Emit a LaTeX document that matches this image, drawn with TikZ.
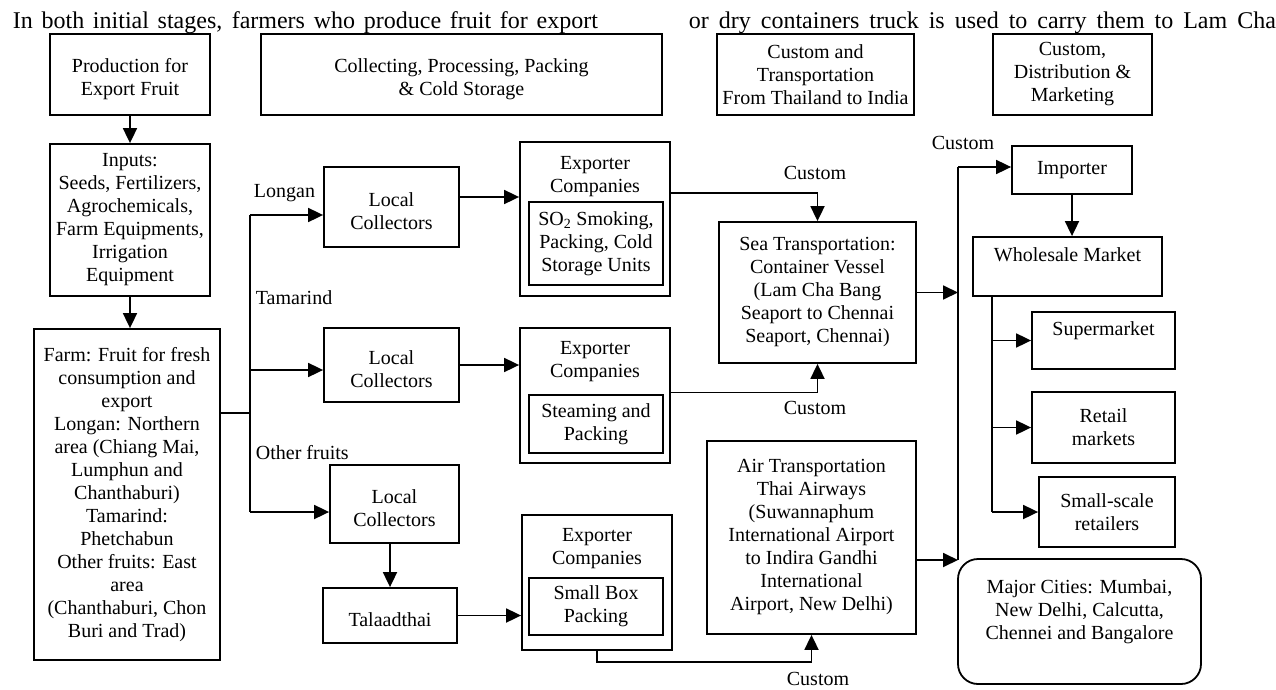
\documentclass[tikz,border=0pt]{standalone}
\usepackage{fontspec}
\setmainfont{Liberation Serif}
\usetikzlibrary{arrows.meta}

\begin{document}
\begin{tikzpicture}[x=1pt,y=-1pt, line width=1.8pt,
	box/.style={shape=rectangle, draw, align=center, inner sep=2pt, font=\fontsize{20}{23}\selectfont},
	plain/.style={shape=rectangle, align=center, inner sep=0pt, font=\fontsize{20}{23}\selectfont},
	lbl/.style={shape=rectangle, inner sep=0pt, font=\fontsize{20}{23}\selectfont},
	arr/.style={-{Triangle[length=15pt,width=14pt]}},
	intro/.style={anchor=base west, inner sep=0pt, font=\fontsize{24}{27}\selectfont}]
	\useasboundingbox (0,0) rectangle (1276,690);

	% Text line above the chart
	\node[intro] (intro1) at (12,28.5) {\makebox[585pt][s]{In both initial stages, farmers who produce fruit for export}};
	\node[intro] (intro2) at (688,28.5) {\makebox[587pt][s]{or dry containers truck is used to carry them to Lam Cha}};

	% Stage headings
	\node[box, minimum width=160pt, minimum height=81pt] (prod) at (130,74.5) {\mbox{}\\Production for\\Export Fruit};
	\node[box, minimum width=401pt, minimum height=81pt] (coll) at (461.5,74.5) {\mbox{}\\Collecting, Processing, Packing\\\& Cold Storage};
	\node[box, minimum width=197pt, minimum height=81pt] (trans) at (815.5,74.5) {Custom and\\Transportation\\From Thailand to India};
	\node[box, minimum width=159pt, minimum height=81pt] (market) at (1072.5,74.5) {Custom,\\Distribution \&\\Marketing};

	% Production in Thailand
	\node[box, minimum width=160pt, minimum height=152pt] (inputs) at (130,220) {Inputs:\\Seeds, Fertilizers,\\Agrochemicals,\\Farm Equipments,\\Irrigation\\Equipment};
	\node[box, minimum width=186pt, minimum height=331pt] (farm) at (127,494.5) {Farm: Fruit for fresh\\consumption and\\export\\Longan: Northern\\area (Chiang Mai,\\Lumphun and\\Chanthaburi)\\Tamarind:\\Phetchabun\\Other fruits: East\\area\\(Chanthaburi, Chon\\Buri and Trad)};

	% Collectors
	\node[box, minimum width=135pt, minimum height=80pt] (lc1) at (391.5,207) {\mbox{}\\Local\\Collectors};
	\node[box, minimum width=135pt, minimum height=74pt] (lc2) at (391.5,365) {\mbox{}\\Local\\Collectors};
	\node[box, minimum width=129pt, minimum height=78pt] (lc3) at (394.5,504) {\mbox{}\\Local\\Collectors};
	\node[box, minimum width=134pt, minimum height=55pt] (tal) at (390,615.5) {\mbox{}\\Talaadthai};

	% Exporters
	\node[box, minimum width=150pt, minimum height=154pt] (exp1) at (595,219) {};
	\node[plain] (exp1name) at (595,176.5) {Exporter\\Companies};
	\node[box, minimum width=134pt, minimum height=83pt] (exp1unit) at (596,243.5) {SO\textsubscript{2} Smoking,\\Packing, Cold\\Storage Units};
	\node[box, minimum width=150pt, minimum height=135pt] (exp2) at (595,395.5) {};
	\node[plain] (exp2name) at (595,362) {Exporter\\Companies};
	\node[box, minimum width=134pt, minimum height=58pt] (exp2unit) at (596,424) {Steaming and\\Packing};
	\node[box, minimum width=150pt, minimum height=135pt] (exp3) at (597,582.5) {};
	\node[plain] (exp3name) at (597,549) {Exporter\\Companies};
	\node[box, minimum width=134pt, minimum height=57pt] (exp3unit) at (596,606.5) {Small Box\\Packing};

	% Transport
	\node[box, minimum width=197pt, minimum height=141pt] (sea) at (817.5,292.5) {Sea Transportation:\\Container Vessel\\(Lam Cha Bang\\Seaport to Chennai\\Seaport, Chennai)};
	\node[box, minimum width=209pt, minimum height=193pt] (air) at (811.5,537.5) {Air Transportation\\Thai Airways\\(Suwannaphum\\International Airport\\to Indira Gandhi\\International\\Airport, New Delhi)};

	% India
	\node[box, minimum width=120pt, minimum height=48pt] (importer) at (1072,170) {Importer};
	\node[box, minimum width=189pt, minimum height=59pt] (wholesale) at (1067.5,266.5) {Wholesale Market\\\mbox{}};
	\node[box, minimum width=143pt, minimum height=57pt] (super) at (1103.5,340.5) {Supermarket\\\mbox{}};
	\node[box, minimum width=143pt, minimum height=71pt] (retail) at (1103.5,427.5) {Retail\\markets};
	\node[box, minimum width=136pt, minimum height=70pt] (smallscale) at (1107,512) {Small-scale\\retailers};
	\node[box, rounded corners=20pt, minimum width=243pt, minimum height=125pt] (cities) at (1079.5,621.5) {Major Cities: Mumbai,\\New Delhi, Calcutta,\\Chennei and Bangalore\\\mbox{}};

	% Farm to collectors
	\draw[arr] (prod) -- (inputs);
	\draw[arr] (inputs.south) -- (inputs.south |- farm.north);
	\coordinate (split) at (250,413);
	\coordinate (splittop) at (250,215);
	\coordinate (splitmid) at (250,370);
	\coordinate (splitbot) at (250,512);
	\draw (farm.east |- split) -- (split);
	\draw (splittop) -- (splitbot);
	\draw[arr] (splittop) -- (splittop -| lc1.west);
	\draw[arr] (splitmid) -- (splitmid -| lc2.west);
	\draw[arr] (splitbot) -- (splitbot -| lc3.west);
	\node[lbl, anchor=west] (longan) at (253,193) {Longan};
	\node[lbl, anchor=west] (tamarind) at (255,298) {Tamarind};
	\node[lbl, anchor=west] (others) at (255,453) {Other fruits};

	% Collectors to exporters
	\draw[arr] ([yshift=10pt]lc1.east) -- ([yshift=10pt]lc1.east -| exp1.west);
	\draw[arr] (lc2.east) -- (lc2.east -| exp2.west);
	\draw[arr] (tal.north |- lc3.south) -- (tal.north);
	\draw[arr] (tal.east) -- (tal.east -| exp3.west);

	% Exporters to transport
	\draw[arr] ([yshift=26pt]exp1.east) -| (sea.north);
	\draw[arr] ([yshift=3pt]exp2.east) -| (sea.south);
	\draw[arr] (exp3.south) -- ++(0,11) -| (air.south);
	\node[lbl] (custom1) at (815,173) {Custom};
	\node[lbl] (custom2) at (815,408) {Custom};
	\node[lbl] (custom3) at (818,679) {Custom};
	\node[lbl] (custom4) at (963,143) {Custom};

	% Transport to India
	\coordinate (gatetop) at (958,167);
	\coordinate (gatebot) at (958,560);
	\draw (gatetop) -- (gatebot);
	\draw[arr] (sea.east) -- (sea.east -| gatetop);
	\draw[arr] (air.east |- gatebot) -- (gatebot);
	\draw[arr] (gatetop) -- (gatetop -| importer.west);
	\draw[arr] (importer.south) -- (importer.south |- wholesale.north);
	\coordinate (shops) at ([xshift=20pt]wholesale.south west);
	\draw (shops) -- (shops |- smallscale.west);
	\draw[arr] (shops |- super.west) -- (super.west);
	\draw[arr] (shops |- retail.west) -- (retail.west);
	\draw[arr] (shops |- smallscale.west) -- (smallscale.west);
\end{tikzpicture}
\end{document}
